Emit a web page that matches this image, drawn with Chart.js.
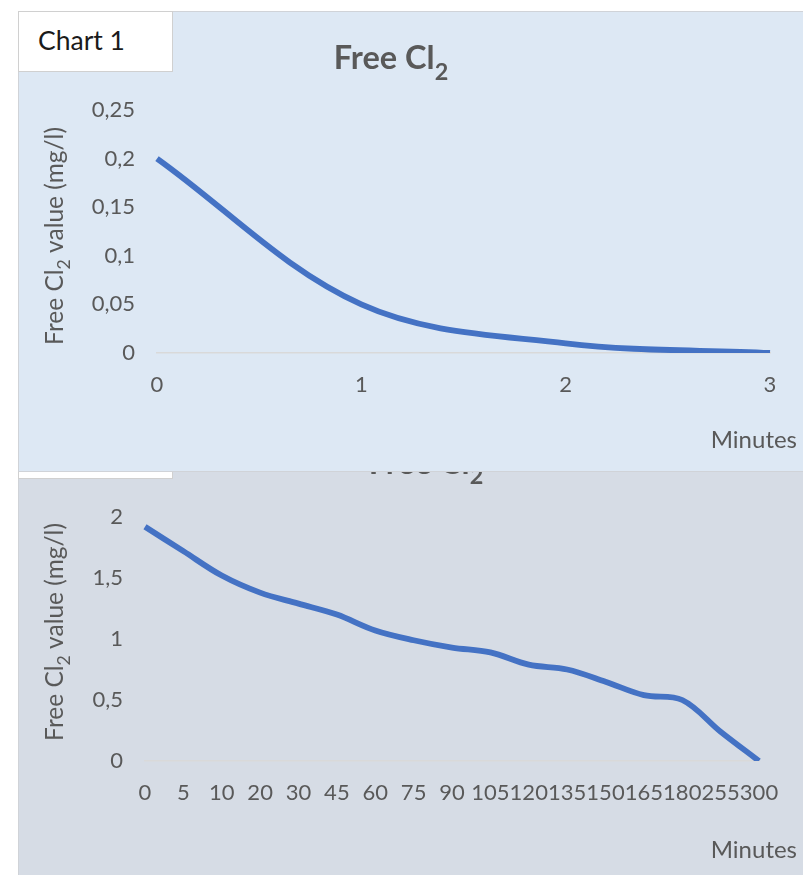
<!DOCTYPE html>
<html>
<head>
<meta charset="utf-8">
<script src="https://cdn.jsdelivr.net/npm/chart.js@4.4.1/dist/chart.umd.min.js"></script>
<style>
  html, body { margin: 0; padding: 0; background: #fff; }
  body { width: 803px; height: 875px; position: relative; overflow: hidden; font-family: Lato, sans-serif; }
  .panel { position: absolute; box-sizing: border-box; border: 1px solid #d0d3d8; }
  #panel1 { left: 18px; top: 11px; width: 800px; height: 461px; background: #dde8f4; z-index: 2; }
  #panel2 { left: 18px; top: 400px; width: 800px; height: 490px; background: #d6dce5; z-index: 0; }
  .tag { position: absolute; box-sizing: border-box; background: #fff; border: 1px solid #d0d0d0; width: 155px; }
  #tag1 { left: 18px; top: 11px; height: 61px; z-index: 4; font-size: 26.5px; color: #1a1a1a; padding: 12px 0 0 19px; }
  #tag2 { left: 18px; top: 412px; height: 67px; z-index: 1; }
  .wrap { position: absolute; left: 18px; width: 785px; }
  #w1 { top: 11px; height: 460px; z-index: 3; }
  #w2 { top: 400px; height: 475px; z-index: 1; }
</style>
</head>
<body>
<div class="panel" id="panel2"></div>
<div class="tag" id="tag2"></div>
<div class="wrap" id="w2"><canvas id="chart2" width="785" height="475"></canvas></div>
<div class="panel" id="panel1"></div>
<div class="tag" id="tag1">Chart 1</div>
<div class="wrap" id="w1"><canvas id="chart1" width="785" height="460"></canvas></div>

<script>
// ------- data -------
const topMinutes = ['0', '1', '2', '3'];
const topFreeCl = [0.2, 0.05, 0.01, 0];
const topYTicks = [0, 0.05, 0.1, 0.15, 0.2, 0.25];

const bottomMinutes = ['0', '5', '10', '20', '30', '45', '60', '75', '90', '105', '120', '135', '150', '165', '180', '255', '300'];
const bottomFreeCl = [1.92, 1.72, 1.52, 1.38, 1.29, 1.20, 1.07, 0.99, 0.93, 0.89, 0.79, 0.75, 0.65, 0.54, 0.50, 0.24, 0];
const bottomYTicks = [0, 0.5, 1, 1.5, 2];

// ------- helpers -------
const ink = '#595959';
const comma = new Intl.NumberFormat('de-DE', { maximumFractionDigits: 3 });
const tickFont = { family: 'Lato', size: 22 };

// text with a subscript piece, e.g. Cl + 2
function drawRich(ctx, pieces, x, y, size, weight, align) {
  const subSize = size * 0.72;
  const fontOf = p => `${weight} ${p.sub ? subSize : size}px Lato, sans-serif`;
  let total = 0;
  pieces.forEach(p => { ctx.font = fontOf(p); total += ctx.measureText(p.t).width; });
  let cx = align === 'center' ? x - total / 2 : align === 'right' ? x - total : x;
  ctx.textAlign = 'left';
  ctx.textBaseline = 'alphabetic';
  pieces.forEach(p => {
    ctx.font = fontOf(p);
    ctx.fillText(p.t, cx, p.sub ? y + size * 0.32 : y);
    cx += ctx.measureText(p.t).width;
  });
}

const titlePieces = [{ t: 'Free Cl' }, { t: '2', sub: true }];
const yTitlePieces = [{ t: 'Free Cl' }, { t: '2', sub: true }, { t: ' value (mg/l)' }];

const panelText = {
  id: 'panelText',
  afterDraw(chart, args, o) {
    const ctx = chart.ctx;
    ctx.save();
    ctx.fillStyle = ink;
    drawRich(ctx, titlePieces, o.titleX, o.titleY, 32.5, 'bold', 'center');
    drawRich(ctx, [{ t: 'Minutes' }], o.xTitleX, o.xTitleY, 24, 'normal', 'right');
    ctx.translate(o.yTitleX, o.yTitleY);
    ctx.rotate(-Math.PI / 2);
    drawRich(ctx, yTitlePieces, 0, 0, 24.5, 'normal', 'center');
    ctx.restore();
  }
};

function buildChart(id, cfg) {
  const W = 785, H = cfg.height, a = cfg.area;
  return new Chart(document.getElementById(id), {
    type: 'line',
    data: {
      labels: cfg.labels,
      datasets: [{
        data: cfg.values, borderColor: '#4472c4', borderWidth: 5.8,
        pointRadius: 0, tension: 0.35, borderCapStyle: 'butt', borderJoinStyle: 'round', fill: false
      }]
    },
    options: {
      responsive: false, animation: false,
      layout: { padding: { left: 0, top: a.top, right: W - a.right, bottom: 0 } },
      plugins: { legend: { display: false }, tooltip: { enabled: false }, panelText: cfg.text },
      scales: {
        x: {
          grid: { display: false },
          border: { display: true, color: '#d9d9d9', width: 1.5 },
          ticks: { color: ink, font: tickFont, padding: 11, autoSkip: false, maxRotation: 0 },
          afterFit: s => { s.height = H - a.bottom; }
        },
        y: {
          min: 0, max: cfg.yMax,
          grid: { display: false },
          border: { display: false },
          ticks: { color: ink, font: tickFont, padding: 14, callback: v => comma.format(v) },
          afterBuildTicks: s => { s.ticks = cfg.yTicks.map(v => ({ value: v })); },
          afterFit: s => { s.width = a.left; }
        }
      }
    },
    plugins: [panelText]
  });
}

buildChart('chart1', {
  height: 460, labels: topMinutes, values: topFreeCl, yTicks: topYTicks, yMax: 0.25,
  area: { left: 139, top: 99, right: 752, bottom: 342 },
  text: { titleX: 373, titleY: 58.3, xTitleX: 779, xTitleY: 437, yTitleX: 44.5, yTitleY: 225 }
});

buildChart('chart2', {
  height: 475, labels: bottomMinutes, values: bottomFreeCl, yTicks: bottomYTicks, yMax: 2,
  area: { left: 127, top: 117, right: 741, bottom: 361 },
  text: { titleX: 408, titleY: 74, xTitleX: 779, xTitleY: 458, yTitleX: 44.5, yTitleY: 232 }
});
</script>
</body>
</html>
